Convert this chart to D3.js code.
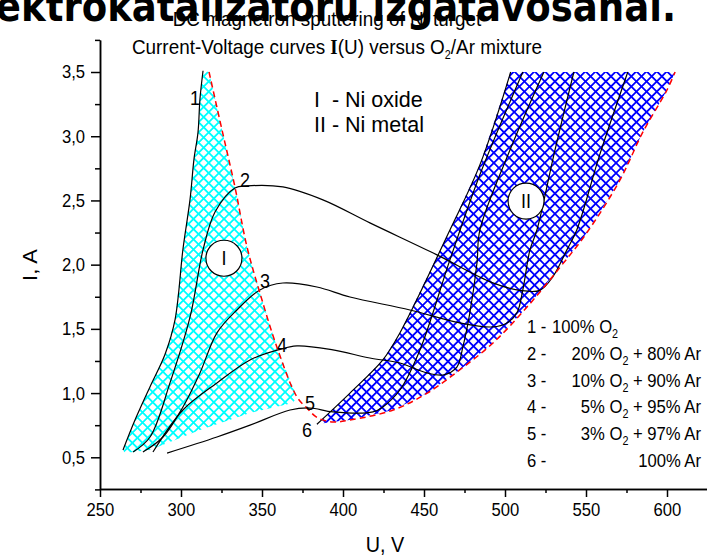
<!DOCTYPE html>
<html>
<head>
<meta charset="utf-8">
<script src="https://cdn.jsdelivr.net/npm/d3@7"></script>
<style>
  body { margin: 0; background: #fff; }
  svg text { font-family: "Liberation Sans", Arial, sans-serif; fill: #000; white-space: pre; }
</style>
</head>
<body>
<svg id="chart" width="707" height="556"></svg>
<script>
const SX = 0.9; // the source picture is squeezed sideways

const uTicks = [250, 300, 350, 400, 450, 500, 550, 600];
const uMinor = [275, 325, 375, 425, 475, 525, 575];
const iTicks = [0.5, 1.0, 1.5, 2.0, 2.5, 3.0, 3.5];
const iMinor = [0.25, 0.75, 1.25, 1.75, 2.25, 2.75, 3.25, 3.75];

// [U (V), I (A)]
const curve1 = [[264.2,0.557],[271.6,0.79],[280.9,1.05],[290.1,1.30],[296.3,1.57],[301.2,2.12],[305.6,2.51],[308,2.82],[310.5,3.03],[311.7,3.29],[313.6,3.51]];
const curve2 = [[270.4,0.541],[280.9,0.658],[293.2,1.079],[305.6,1.593],[313.6,2.115],[321,2.41],[333.3,2.597],[340.7,2.613],[362.9,2.605],[387.6,2.504],[416.6,2.325],[458,2.076],[492.5,1.858],[509.2,1.80],[521.5,1.80],[529.5,1.905],[538.2,2.115],[544.3,2.27],[558.5,2.857],[575.8,3.5]];
const curve3 = [[276.5,0.541],[288.9,0.658],[301.2,0.892],[311.7,1.157],[322.2,1.469],[334.5,1.647],[348.7,1.803],[362.9,1.857],[383.9,1.826],[404.3,1.748],[441.3,1.647],[472.2,1.546],[492.5,1.515],[501.2,1.546],[507.3,1.624],[511,1.803],[515.4,2.115],[519.7,2.27],[530.8,2.89],[542.5,3.5]];
const curve4 = [[282.7,0.541],[301.2,0.868],[322.2,1.079],[342.6,1.258],[359.9,1.336],[371.6,1.367],[393.8,1.336],[416.6,1.273],[435.1,1.234],[451.8,1.157],[461.7,1.141],[470.3,1.203],[474,1.359],[478.3,1.624],[482.7,2.013],[484.5,2.27],[503,2.89],[524,3.5]];
const curve5 = [[291.4,0.533],[322.2,0.658],[342.6,0.75],[367.3,0.868],[379.6,0.884],[393.8,0.853],[418.5,0.853],[424.6,0.892],[435.1,1.024],[447.5,1.336],[466,2.037],[484.5,2.70],[511,3.5]];
const curve6 = [[383.9,0.757],[404.3,1.0],[424.6,1.258],[435.1,1.468],[466,2.27],[484.5,2.777],[503.5,3.5]];
const curves = [curve1, curve2, curve3, curve4, curve5, curve6];

// oxide / metal mode border (red dashes)
const border = [[317.3,3.5],[325.3,3.05],[333.3,2.605],[340.7,2.14],[348.7,1.78],[359.8,1.336],[371.6,0.97],[378,0.88],[384,0.81],[393,0.775],[404,0.79],[431,0.868],[452,1.0],[472,1.18],[492.6,1.39],[513.6,1.67],[534,1.98],[550.6,2.25],[571,2.66],[585,3.03],[600,3.36],[605,3.5]];
const oxideBottom = [[369,0.923],[342.6,0.845],[311.7,0.713],[280.9,0.557],[265.4,0.533]];

const curveNames = ["1", "2", "3", "4", "5", "6"];
const curveNamePos = [[305.6,3.244],[336.4,2.605],[348.7,1.819],[359.2,1.32],[376.5,0.868],[374.7,0.656]];
const zoneNames = ["I", "II"];
const zonePos = [[326.5,2.05],[513,2.495]];

const legendNums = ["1 -", "2 -", "3 -", "4 -", "5 -", "6 -"];
const legendO2 = ["100%", "20%", "10%", "5%", "3%", ""];
const legendAr = ["", "80%", "90%", "95%", "97%", "100%"];

const svg = d3.select("#chart");

const x = d3.scaleLinear().domain([250, 625]).range([100, 707.5]);
const y = d3.scaleLinear().domain([0.25, 3.75]).range([489.4, 39.9]);

// squeezed text helper
function label(g, px, py, anchor, size, sx = SX) {
  return g.append("text")
    .attr("transform", `translate(${px},${py}) scale(${sx},1)`)
    .attr("text-anchor", anchor)
    .style("font-size", size + "px");
}
// subscript, then the rest of the line back on the baseline
function sub(t, s, rest) {
  t.append("tspan").text(s).attr("dy", 5).style("font-size", "12px");
  if (rest) t.append("tspan").text(rest).attr("dy", -5);
}

// hatch patterns
const defs = svg.append("defs");
function hatch(id, color, step) {
  const p = defs.append("pattern")
    .attr("id", id)
    .attr("patternUnits", "userSpaceOnUse")
    .attr("width", step).attr("height", step)
    .attr("patternTransform", "rotate(45)");
  p.append("path")
    .attr("d", `M0,${step / 2}H${step}M${step / 2},0V${step}`)
    .attr("stroke", color)
    .attr("stroke-width", 1.25)
    .style("shape-rendering", "crispEdges");
}
hatch("cyanHatch", "#00ffff", 7.2);
hatch("blueHatch", "#0000ff", 7.2);

const px = d => x(d[0]);
const py = d => y(d[1]);
const poly = d3.line().x(px).y(py).curve(d3.curveLinearClosed);
const smooth = d3.line().x(px).y(py).curve(d3.curveCatmullRom.alpha(0.5));

// zone I : oxide
const zoneI = curve1.concat(border.filter(d => d[0] <= 372), oxideBottom);
svg.append("path").attr("d", poly(zoneI)).attr("fill", "url(#cyanHatch)");

// zone II : metal
const zoneII = curve6.concat(border.filter(d => d[0] >= 392).reverse());
svg.append("path").attr("d", poly(zoneII)).attr("fill", "url(#blueHatch)");

// I-V curves
svg.append("g").selectAll("path")
  .data(curves)
  .join("path")
  .attr("d", smooth)
  .attr("fill", "none")
  .attr("stroke", "#000")
  .attr("stroke-width", 1.2);

svg.append("path")
  .attr("d", smooth(border))
  .attr("fill", "none")
  .attr("stroke", "#ff0000")
  .attr("stroke-width", 1.5)
  .attr("stroke-dasharray", "6,4");

// axes
const xAxis = svg.append("g").attr("transform", "translate(0,489)");
xAxis.call(d3.axisBottom(x).tickValues(uMinor).tickSize(4).tickSizeOuter(0).tickFormat(""));
xAxis.append("g").call(d3.axisBottom(x).tickValues(uTicks).tickSize(8).tickSizeOuter(0).tickPadding(6).tickFormat(d3.format("d")));
xAxis.selectAll(".domain").attr("stroke-width", 1.5);
xAxis.selectAll("line").attr("stroke-width", 1.5);
xAxis.selectAll("text")
  .attr("transform", `scale(${SX},1)`)
  .style("font-size", "18.5px")
  .style("font-family", '"Liberation Sans", Arial, sans-serif');

const yAxis = svg.append("g").attr("transform", "translate(100,0)");
yAxis.call(d3.axisLeft(y).tickValues(iMinor).tickSize(5).tickSizeOuter(0).tickFormat(""));
yAxis.append("g").call(d3.axisLeft(y).tickValues(iTicks).tickSize(9).tickSizeOuter(0).tickPadding(6)
  .tickFormat(d => d.toFixed(1).replace(".", ",")));
yAxis.selectAll(".domain").attr("stroke-width", 1.5);
yAxis.selectAll("line").attr("stroke-width", 1.5);
yAxis.selectAll("text")
  .attr("transform", `scale(${SX},1)`)
  .attr("x", -15 / SX)
  .style("font-size", "18.5px")
  .style("font-family", '"Liberation Sans", Arial, sans-serif');

// axis titles
label(svg, 385, 552, "middle", 22).text("U, V");
svg.append("text")
  .attr("transform", `translate(37,265) rotate(-90) scale(1,${SX})`)
  .attr("text-anchor", "middle")
  .style("font-size", "22px")
  .text("I, A");

// curve numbers
const ann = svg.append("g");
curveNames.forEach((n, i) => {
  label(ann, x(curveNamePos[i][0]), y(curveNamePos[i][1]), "start", 20).text(n);
});

// zone circles
zoneNames.forEach((n, i) => {
  const cx = x(zonePos[i][0]), cy = y(zonePos[i][1]);
  ann.append("circle").attr("cx", cx).attr("cy", cy).attr("r", 18)
    .attr("fill", "#fff").attr("stroke", "#000").attr("stroke-width", 1.2);
  label(ann, cx, cy + 7, "middle", 20).text(n);
});

label(ann, 314, 107, "start", 21.5, 1).text("I  - Ni oxide");
label(ann, 314, 132, "start", 21.5, 1).text("II - Ni metal");

// legend
const leg = svg.append("g");
legendNums.forEach((n, i) => {
  const by = 333 + i * 26.8;
  label(leg, 527, by, "start", 18.5).text(n);
  if (i === 0) {
    const t = label(leg, 552, by, "start", 18.5);
    t.append("tspan").text("100% O");
    sub(t, "2");
  } else if (legendO2[i] === "") {
    label(leg, 701, by, "end", 18.5).text(legendAr[i] + " Ar");
  } else {
    const t = label(leg, 701, by, "end", 18.5);
    t.append("tspan").text(legendO2[i] + " O");
    sub(t, "2", " + " + legendAr[i] + " Ar");
  }
});

// titles: slide heading behind the chart, its start runs off the left edge
svg.append("text")
  .attr("x", -42).attr("y", 21)
  .attr("textLength", 718)
  .attr("lengthAdjust", "spacingAndGlyphs")
  .style("font-family", '"DejaVu Sans", Verdana, sans-serif')
  .style("font-weight", "bold")
  .style("font-size", "42px")
  .text("elektrokatalizatoru izgatavošanai.");

label(svg, 327, 26, "middle", 21).text("DC magnetron sputtering of Ni turget");
const t2 = label(svg, 337, 54, "middle", 21);
t2.append("tspan").text("Current-Voltage curves ");
t2.append("tspan").text("I").style("font-family", '"Liberation Serif", serif').style("font-weight", "bold");
t2.append("tspan").text("(U) versus O");
sub(t2, "2", "/Ar mixture");
</script>
</body>
</html>
